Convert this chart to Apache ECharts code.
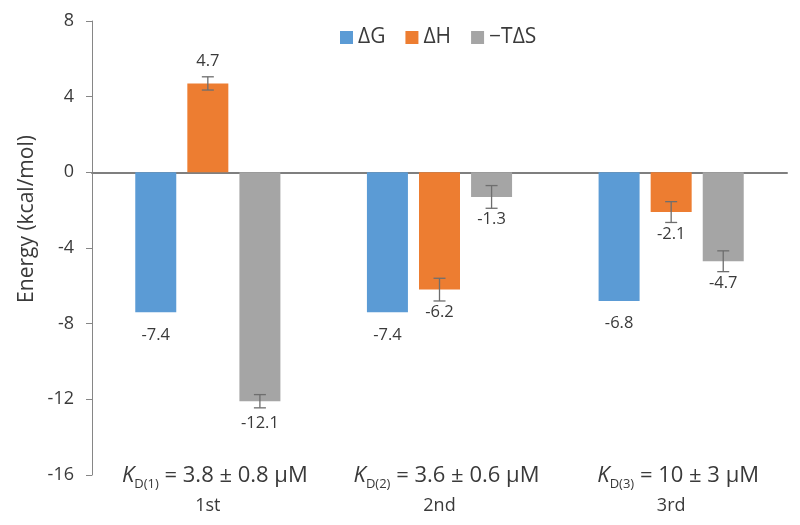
<!DOCTYPE html>
<html>
<head>
<meta charset="utf-8">
<script src="https://cdn.jsdelivr.net/npm/echarts@6/dist/echarts.min.js"></script>
<style>html,body{margin:0;padding:0;background:#fff;}#c{width:800px;height:525px;}</style>
</head>
<body>
<div id="c"></div>
<script>
// ---- data ----
const categories = ['1st', '2nd', '3rd'];
const kdIndex = ['1', '2', '3'];
const kdValues = ['3.8 ± 0.8', '3.6 ± 0.6', '10 ± 3'];
const seriesNames = ['ΔG', 'ΔH', '−TΔS'];
const dG = [-7.4, -7.4, -6.8];
const dH = [4.7, -6.2, -2.1];
const mTdS = [-12.1, -1.3, -4.7];
const dHErr = [0.35, 0.6, 0.55];
const mTdSErr = [0.35, 0.6, 0.55];
const yTicks = { min: -16, max: 8, interval: 4 };
const yTitle = 'Energy (kcal/mol)';

// ---- style ----
const FONT = 'Open Sans';
const colors = ['#5B9BD5', '#ED7D31', '#A5A5A5'];
const BAR_W = 41;
const GAP_RATIO = 0.27;
const textColor = '#3a3a3a';

const chart = echarts.init(document.getElementById('c'));

function barData(arr) {
  return arr.map(v => ({ value: v, label: { position: v < 0 ? 'bottom' : 'top' } }));
}

const errItems = [];
[[dH, dHErr, 1], [mTdS, mTdSErr, 2]].forEach(([vals, errs, slot]) => {
  vals.forEach((v, i) => errItems.push([i, v, errs[i], slot]));
});

const catLabels = categories.map((c, i) =>
  '{k|K}{s|D(' + kdIndex[i] + ')}{t| = ' + kdValues[i] + ' μM}\n{n|' + c + '}');

const option = {
  animation: false,
  color: colors,
  textStyle: { fontFamily: FONT },
  grid: { left: 92, right: 13, top: 21, bottom: 50, containLabel: false },
  legend: {
    data: seriesNames,
    top: 22,
    left: 335,
    icon: 'rect',
    itemWidth: 13,
    itemHeight: 13,
    itemGap: 20,
    textStyle: { fontFamily: FONT, fontSize: 21, color: textColor }
  },
  xAxis: [
    {
      type: 'category',
      data: categories,
      position: 'bottom',
      axisLine: { show: false, onZero: false },
      axisTick: { show: false },
      axisLabel: {
        margin: -14,
        interval: 0,
        formatter: (v, i) => catLabels[i],
        rich: {
          k: { fontFamily: FONT, fontSize: 22, fontStyle: 'italic', color: textColor, lineHeight: 30, padding: [0, 0, 0, 14] },
          s: { fontFamily: FONT, fontSize: 13, color: textColor, verticalAlign: 'bottom', lineHeight: 30 },
          t: { fontFamily: FONT, fontSize: 22, color: textColor, lineHeight: 30 },
          n: { fontFamily: FONT, fontSize: 18, color: textColor, lineHeight: 30 }
        }
      }
    },
    {
      type: 'category',
      data: categories,
      position: 'top',
      axisLine: { show: true, onZero: true, lineStyle: { color: '#7f7f7f', width: 2 } },
      axisTick: { show: false },
      axisLabel: { show: false }
    }
  ],
  yAxis: {
    type: 'value',
    min: yTicks.min,
    max: yTicks.max,
    interval: yTicks.interval,
    splitLine: { show: false },
    axisLine: { show: true, lineStyle: { color: '#868686', width: 1 } },
    axisTick: { show: true, length: 6, lineStyle: { color: '#868686' } },
    axisLabel: { fontFamily: FONT, fontSize: 18, color: textColor, margin: 18 }
  },
  graphic: [{
    type: 'text',
    x: 27, y: 219,
    rotation: Math.PI / 2,
    style: {
      text: yTitle,
      fontFamily: FONT, fontSize: 21, fill: textColor,
      align: 'center', verticalAlign: 'middle'
    }
  }],
  series: [
    ...[dG, dH, mTdS].map((arr, k) => ({
      name: seriesNames[k],
      type: 'bar',
      xAxisIndex: 0,
      barWidth: BAR_W,
      barGap: (GAP_RATIO * 100) + '%',
      data: barData(arr),
      label: {
        show: true,
        distance: 14,
        fontFamily: FONT,
        fontSize: 16.5,
        color: textColor
      }
    })),
    {
      type: 'custom',
      xAxisIndex: 0,
      z: 10,
      silent: true,
      data: errItems,
      renderItem: (params, api) => {
        const slot = api.value(3);
        const offset = (slot - 1) * BAR_W * (1 + GAP_RATIO);
        const v = api.value(1), e = api.value(2);
        const top = api.coord([api.value(0), v + e]);
        const bot = api.coord([api.value(0), v - e]);
        const x = top[0] + offset;
        const cap = 6;
        const style = { stroke: '#6e6e6e', lineWidth: 1.3 };
        return {
          type: 'group',
          children: [
            { type: 'line', shape: { x1: x, y1: top[1], x2: x, y2: bot[1] }, style },
            { type: 'line', shape: { x1: x - cap, y1: top[1], x2: x + cap, y2: top[1] }, style },
            { type: 'line', shape: { x1: x - cap, y1: bot[1], x2: x + cap, y2: bot[1] }, style }
          ]
        };
      }
    }
  ]
};
chart.setOption(option);
</script>
</body>
</html>
